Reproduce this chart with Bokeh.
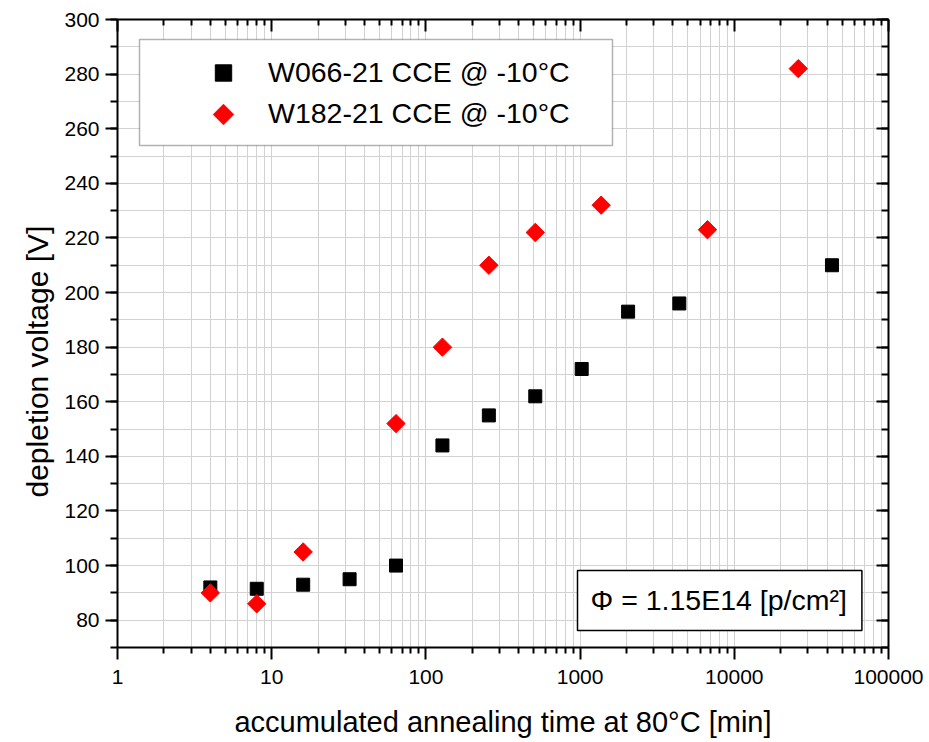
from math import pi
from bokeh.plotting import figure
from bokeh.models import (LogAxis, LinearAxis, FixedTicker, SingleIntervalTicker,
                          PrintfTickFormatter, CustomJSTickFormatter, Legend, LegendItem,
                          Label, BoxAnnotation, PolyAnnotation, Title)
from bokeh.embed import file_html
from bokeh.resources import INLINE

# ---- data ----
w066_time = [4, 8, 16, 32, 64, 128, 256, 512, 1024, 2048, 4400, 43000]
w066_vdep = [92, 91.5, 93, 95, 100, 144, 155, 162, 172, 193, 196, 210]
w182_time = [4, 8, 16, 64, 128, 256, 512, 1370, 6700, 26000]
w182_vdep = [90, 86, 105, 152, 180, 210, 222, 232, 223, 282]

x_major_ticks = [1, 10, 100, 1000, 10000, 100000]
x_minor_ticks = [k * d for d in [1, 10, 100, 1000, 10000] for k in range(2, 10)]
label_w066 = "W066-21 CCE @ -10°C"
label_w182 = "W182-21 CCE @ -10°C"
fluence_text = "Φ = 1.15E14 [p/cm²]"
x_title = "accumulated annealing time at 80°C [min]"
y_title = "depletion voltage [V]"

FONT = "Liberation Sans"
GRID = "#d2d2d2"
RED = "#ff0000"

p = figure(width=929, height=742, x_axis_type="log", x_range=(1, 100000), y_range=(70, 300),
           output_backend="svg", toolbar_location=None,
           min_border_left=117, min_border_right=41, min_border_top=19, min_border_bottom=95)
p.outline_line_color = None
p.background_fill_color = "white"

xticker = FixedTicker(ticks=x_major_ticks, minor_ticks=x_minor_ticks)
yticker = SingleIntervalTicker(interval=20, num_minor_ticks=2)


def style_axis(ax):
    ax.axis_line_width = 2
    ax.axis_line_color = "black"
    ax.major_tick_line_width = 2
    ax.minor_tick_line_width = 2
    ax.major_tick_line_color = "black"
    ax.minor_tick_line_color = "black"
    ax.major_label_text_font = FONT
    ax.major_label_text_font_size = "21px"
    ax.major_label_text_color = "black"
    ax.axis_label_text_font = FONT
    ax.axis_label_text_font_size = "29px"
    ax.axis_label_text_font_style = "normal"
    ax.axis_label_text_color = "black"


xa = p.xaxis[0]
xa.ticker = xticker
xa.formatter = PrintfTickFormatter(format="%d")
xa.axis_label = x_title
style_axis(xa)
xa.major_tick_out = 12
xa.major_tick_in = 0
xa.minor_tick_out = 6
xa.minor_tick_in = 0
xa.major_label_standoff = 10
xa.axis_label_standoff = 19

ya = p.yaxis[0]
ya.ticker = yticker
style_axis(ya)
ya.major_tick_out = 12
ya.major_tick_in = 0
ya.minor_tick_out = 7
ya.minor_tick_in = 0
ya.major_label_standoff = 6

p.xgrid.ticker = xticker
p.ygrid.ticker = yticker
for g in (p.xgrid[0], p.ygrid[0]):
    g.grid_line_color = GRID
    g.grid_line_width = 1
    g.minor_grid_line_color = GRID
    g.minor_grid_line_width = 1

blank = CustomJSTickFormatter(code="return ''")
top = LogAxis(ticker=xticker, formatter=blank)
style_axis(top)
top.major_tick_in = 12
top.major_tick_out = 0
top.minor_tick_in = 6
top.minor_tick_out = 0
top.major_label_standoff = 0
p.add_layout(top, "above")

right = LinearAxis(ticker=yticker, formatter=blank)
style_axis(right)
right.major_tick_in = 12
right.major_tick_out = 0
right.minor_tick_in = 7
right.minor_tick_out = 0
right.major_label_standoff = 0
p.add_layout(right, "right")

# y-axis title as a side title (allows offsetting along the axis like the reference)
p.add_layout(Title(text=y_title, align="left", offset=150, standoff=15,
                   text_font=FONT, text_font_size="30px", text_font_style="normal",
                   text_color="black"), "left")

r1 = p.scatter(w066_time, w066_vdep, marker="square", size=13, color="black")
r2 = p.scatter(w182_time, w182_vdep, marker="square", angle=pi / 4, size=13, color=RED)
# invisible key holder for the diamond series (key drawn below as a diamond)
r2_key = p.scatter(x=[], y=[], marker="square", fill_alpha=0, line_alpha=0)

# legend frame
LEG_L, LEG_R, LEG_T, LEG_B = 22, 495, 608, 502   # frame-relative screen units
p.add_layout(BoxAnnotation(left=LEG_L, right=LEG_R, top=LEG_T, bottom=LEG_B,
                           left_units="screen", right_units="screen",
                           top_units="screen", bottom_units="screen",
                           fill_color="white", fill_alpha=1,
                           line_color="black", line_width=1.5))

legend = Legend(items=[LegendItem(label=label_w066, renderers=[r1]),
                       LegendItem(label=label_w182, renderers=[r2_key])],
                location=(22, 474), padding=39, spacing=0, margin=0,
                glyph_width=90, glyph_height=41, label_height=41,
                label_standoff=0, label_text_font=FONT, label_text_font_size="28.5px",
                label_text_color="black", border_line_alpha=0,
                background_fill_alpha=0)
p.add_layout(legend, "center")

# diamond legend key
KX, KY, KR = 106, 533, 10.5
p.add_layout(PolyAnnotation(xs=[KX, KX + KR, KX, KX - KR], ys=[KY + KR, KY, KY - KR, KY],
                            xs_units="screen", ys_units="screen",
                            fill_color=RED, fill_alpha=1, line_color=RED, line_width=1))

lab = Label(x=460, y=47, x_units="screen", y_units="screen", text=fluence_text,
            text_font=FONT, text_font_size="28.5px", text_color="black",
            text_align="left", text_baseline="middle",
            border_line_color="black", border_line_width=1.5,
            background_fill_color="white", padding=(13, 15, 13, 15))
p.add_layout(lab)

open("out.html", "w").write(file_html(p, INLINE))
